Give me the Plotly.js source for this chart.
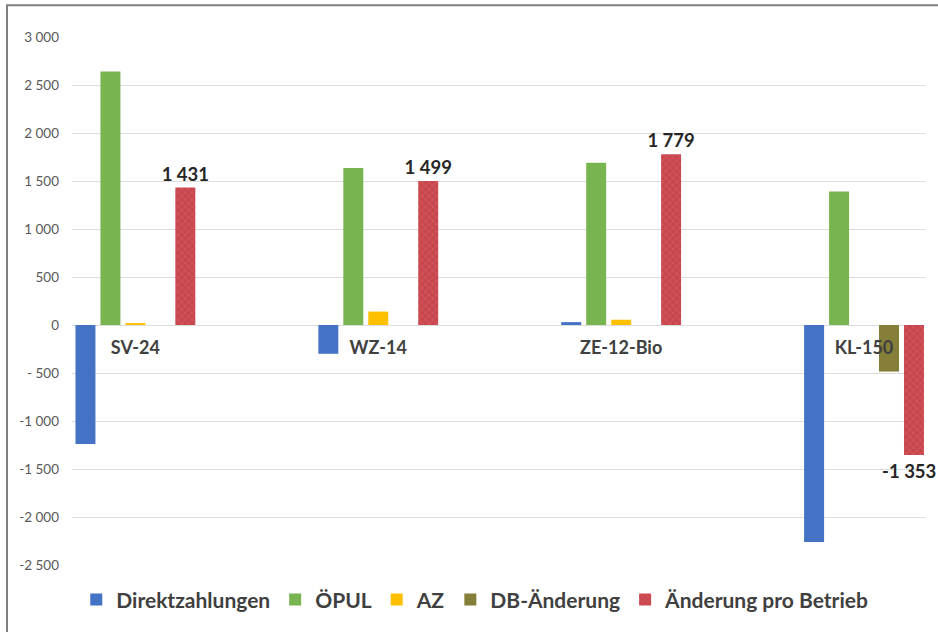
<!DOCTYPE html>
<html>
<head>
<meta charset="utf-8">
<script src="https://cdn.plot.ly/plotly-3.0.1.min.js"></script>
<style>
  html, body { margin: 0; padding: 0; background: #ffffff; }
  #chart { width: 938px; height: 632px; }
</style>
</head>
<body>
<div id="chart"></div>
<script>
// ---- data ----
const categories = ['SV-24', 'WZ-14', 'ZE-12-Bio', 'KL-150'];
const seriesNames = ['Direktzahlungen', 'ÖPUL', 'AZ', 'DB-Änderung', 'Änderung pro Betrieb'];
const direktzahlungen = [-1240, -300, 30, -2260];
const oepul = [2640, 1635, 1690, 1390];
const az = [20, 140, 55, null];
const dbAenderung = [null, null, null, -485];
const aenderungProBetrieb = [1431, 1499, 1779, -1353];
const yTickVals = [-2500, -2000, -1500, -1000, -500, 0, 500, 1000, 1500, 2000, 2500, 3000];
const yTickText = ['-2 500', '-2 000', '-1 500', '-1 000', '- 500', '0', '500', '1 000', '1 500', '2 000', '2 500', '3 000'];

// ---- styling ----
const FONT = 'Lato, "Open Sans", "DejaVu Sans", sans-serif';
const colors = ['#4472c4', '#78b450', '#ffc000', '#857f3a', '#c9464d'];
const yRange = [-2500, 3000];
const xRange = [-0.261, 3.251];
const W = 938, H = 632;
const M = { l: 72, r: 13, t: 37, b: 63, pad: 0 };
const BARGAP = 0.486;
const LABEL_FONT = { family: FONT, size: 18.5, color: '#262626', weight: 'bold' };

function fmt(v) {
  const s = Math.abs(Math.round(v)).toString().replace(/\B(?=(\d{3})+(?!\d))/g, ' ');
  return (v < 0 ? '-' : '') + s;
}

const seriesValues = [direktzahlungen, oepul, az, dbAenderung, aenderungProBetrieb];

const traces = seriesValues.map((vals, i) => {
  const t = {
    type: 'bar',
    name: seriesNames[i],
    x: categories,
    y: vals,
    marker: { color: colors[i], line: { width: 0 } },
    hoverinfo: 'x+y+name'
  };
  if (i === 4) {
    t.marker.pattern = { shape: 'x', fillmode: 'overlay', fgcolor: '#de7a80', size: 5, solidity: 0.25 };
    t.text = vals.map(v => (v >= 0 ? fmt(v) : ''));
    t.textposition = 'outside';
    t.constraintext = 'none';
    t.textfont = LABEL_FONT;
    t.cliponaxis = false;
  }
  return t;
});

// negative labels of the last series as annotations (kept inside the picture)
const plotW = W - M.l - M.r;
const catPx = plotW / (xRange[1] - xRange[0]);
const slotPx = catPx * (1 - BARGAP) / seriesValues.length;
const lastOffset = slotPx * 2; // last series slot relative to category centre
const annotations = [];
aenderungProBetrieb.forEach((v, k) => {
  if (v < 0) {
    annotations.push({
      xref: 'x', yref: 'y', x: categories[k], y: v,
      text: fmt(v), showarrow: false,
      xanchor: 'center', yanchor: 'top',
      xshift: lastOffset - 5, yshift: -3,
      font: LABEL_FONT
    });
  }
});

const layout = {
  width: W,
  height: H,
  margin: M,
  paper_bgcolor: '#ffffff',
  plot_bgcolor: '#ffffff',
  barmode: 'group',
  bargap: BARGAP,
  bargroupgap: 0.2,
  showlegend: true,
  font: { family: FONT, color: '#404040' },
  xaxis: {
    type: 'category',
    range: xRange,
    anchor: 'free',
    position: (0 - yRange[0]) / (yRange[1] - yRange[0]),
    showgrid: false,
    showline: false,
    zeroline: false,
    ticks: '',
    ticklabelstandoff: 10,
    tickfont: { family: FONT, size: 18, color: '#404040', weight: 'bold' }
  },
  yaxis: {
    range: yRange,
    tickvals: yTickVals,
    ticktext: yTickText,
    showgrid: true,
    gridcolor: '#dcdcdc',
    gridwidth: 1,
    zeroline: false,
    showline: false,
    ticks: '',
    ticklabelstandoff: 12,
    tickfont: { family: FONT, size: 13.5, color: '#595959' }
  },
  legend: {
    orientation: 'h',
    x: 0.005,
    xanchor: 'left',
    y: -0.066,
    yanchor: 'middle',
    font: { family: FONT, size: 21, color: '#404040', weight: 'bold' },
    itemwidth: 30,
    bgcolor: 'rgba(0,0,0,0)'
  },
  annotations: annotations,
  shapes: [{
    type: 'rect', xref: 'paper', yref: 'paper',
    x0: (7 - M.l) / plotW, x1: 1.05,
    y0: -0.2, y1: (H - M.b - 5) / (H - M.t - M.b),
    line: { color: '#7f7f7f', width: 2 },
    fillcolor: 'rgba(0,0,0,0)',
    layer: 'below'
  }]
};

Plotly.newPlot('chart', traces, layout, { displayModeBar: false, staticPlot: true });
</script>
</body>
</html>
